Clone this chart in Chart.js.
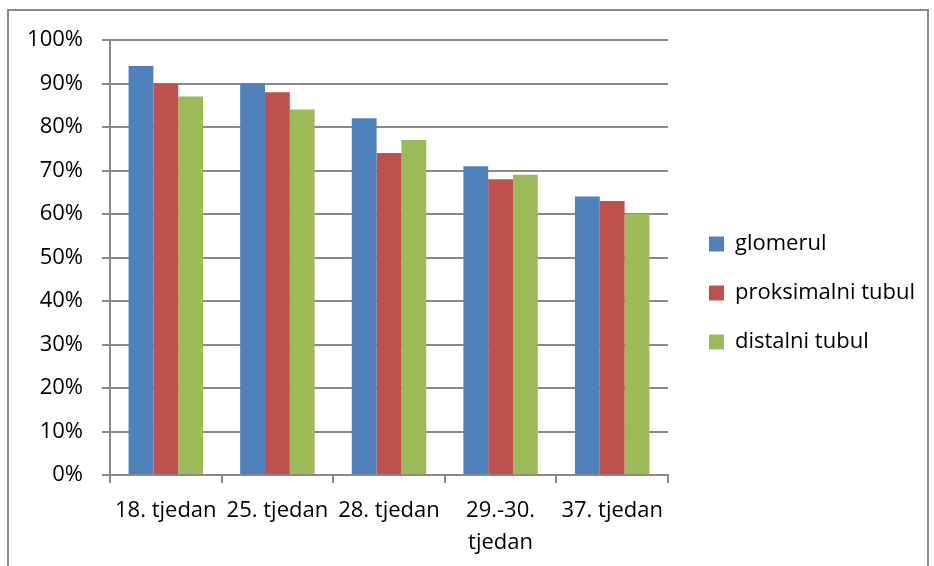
<!DOCTYPE html>
<html>
<head>
<meta charset="utf-8">
<script src="https://cdn.jsdelivr.net/npm/chart.js@4.4.1/dist/chart.umd.min.js"></script>
<style>
    body { margin: 0; background: #fff; }
    #frame { position: absolute; left: 7px; top: 9px; width: 918px; height: 600px; border: 2px solid #8a8a8a; }
    #barChart { position: absolute; left: 0; top: 0; }
</style>
</head>
<body>
<div id="frame"></div>
<canvas id="barChart" width="934" height="566"></canvas>
<script>
let categories = ['18. tjedan', '25. tjedan', '28. tjedan', ['29.-30.', 'tjedan'], '37. tjedan'];
let glomerul = [94, 90, 82, 71, 64];
let proksimalniTubul = [90, 88, 74, 68, 63];
let distalniTubul = [87, 84, 77, 69, 60];
let yTicks = [0, 10, 20, 30, 40, 50, 60, 70, 80, 90, 100];

const gridGrey = '#898989';
const fontFamily = "'Open Sans', sans-serif";

// nudge the legend a bit right and up, like the original
const legendShift = {
    id: 'legendShift',
    afterLayout: function (chart) {
        chart.legend.left += 14;
        chart.legend.right += 14;
        chart.legend.top -= 10;
        chart.legend.bottom -= 10;
    },
};

function drawBarChart() {
    let ctx = document.getElementById('barChart').getContext('2d');
    let barChart = new Chart(ctx, {
        type: 'bar',
        data: {
            labels: categories,
            datasets: [
                {
                    label: 'glomerul',
                    data: glomerul,
                    backgroundColor: '#4F81BD',
                    categoryPercentage: 0.667,
                    barPercentage: 1.0,
                },
                {
                    label: 'proksimalni tubul',
                    data: proksimalniTubul,
                    backgroundColor: '#C0504D',
                    categoryPercentage: 0.667,
                    barPercentage: 1.0,
                },
                {
                    label: 'distalni tubul',
                    data: distalniTubul,
                    backgroundColor: '#9BBB59',
                    categoryPercentage: 0.667,
                    barPercentage: 1.0,
                },
            ],
        },
        options: {
            responsive: false,
            animation: false,
            layout: {
                padding: { top: 40, right: 23, bottom: 0, left: 0 },
            },
            plugins: {
                tooltip: { enabled: false },
                legend: {
                    position: 'right',
                    maxWidth: 320,
                    labels: {
                        boxWidth: 15,
                        boxHeight: 15,
                        padding: 27,
                        color: '#000',
                        font: { family: fontFamily, size: 22 },
                    },
                },
            },
            scales: {
                x: {
                    afterFit: function (scale) { scale.height = 91; },
                    grid: {
                        display: true,
                        drawOnChartArea: false,
                        drawTicks: true,
                        tickLength: 8,
                        color: gridGrey,
                        lineWidth: 2,
                    },
                    border: { color: gridGrey, width: 2 },
                    ticks: {
                        color: '#000',
                        maxRotation: 0,
                        autoSkip: false,
                        padding: 12,
                        font: { family: fontFamily, size: 22, lineHeight: 1.45 },
                    },
                },
                y: {
                    min: 0,
                    max: 100,
                    afterFit: function (scale) { scale.width = 110; },
                    afterBuildTicks: function (scale) {
                        scale.ticks = yTicks.map(v => ({ value: v }));
                    },
                    grid: {
                        color: gridGrey,
                        lineWidth: 2,
                        tickLength: 8,
                    },
                    border: { color: gridGrey, width: 2 },
                    ticks: {
                        color: '#000',
                        padding: 19,
                        font: { family: fontFamily, size: 22 },
                        callback: function (value) { return value + '%'; },
                    },
                },
            },
        },
        plugins: [legendShift],
    });
}

drawBarChart();
</script>
</body>
</html>
